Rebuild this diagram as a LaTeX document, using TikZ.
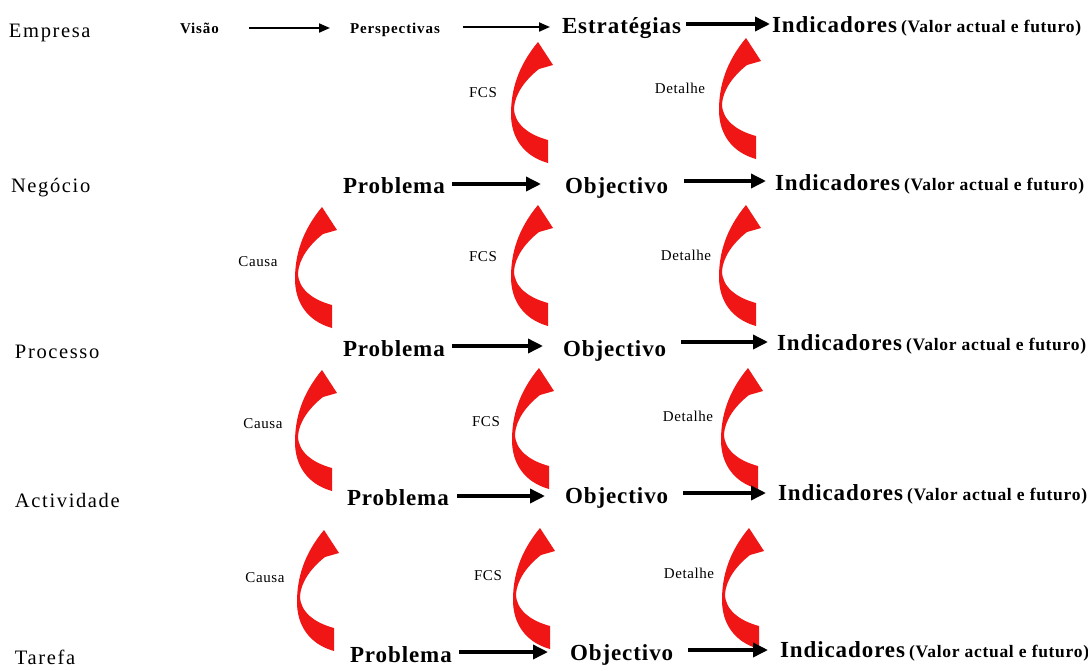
\documentclass[tikz,border=0pt]{standalone}
\usepackage{fontspec}
\setmainfont{Liberation Serif}
\newfontfamily\spA[LetterSpace=6]{Liberation Serif}
\newfontfamily\spB[LetterSpace=4]{Liberation Serif}
\newfontfamily\spC[LetterSpace=8]{Liberation Serif}
\usetikzlibrary{arrows.meta}
\definecolor{arrred}{RGB}{240,22,22}
\tikzset{
  redarr/.pic={
    \fill[arrred] (27,0) -- (42,23) -- (28,27)
      .. controls (14,38) and (4,52) .. (3,66)
      .. controls (3,82) and (18,93) .. (37,98)
      -- (37,121)
      .. controls (12,114) and (0,95) .. (0,72)
      .. controls (0,48) and (7,24) .. (27,0) -- cycle;
  }
}
\begin{document}
\begin{tikzpicture}[x=1pt,y=-1pt,
  every node/.style={inner sep=0pt,outer sep=0pt,anchor=base west},
  rowlab/.style={font=\spC\fontsize{20.5}{24}\selectfont},
  big/.style={font=\spB\bfseries\fontsize{23}{28}\selectfont},
  valor/.style={font=\spB\bfseries\fontsize{17.5}{20}\selectfont},
  small/.style={font=\spA\bfseries\fontsize{15}{18}\selectfont},
  lab/.style={anchor=center,font=\spB\fontsize{15}{18}\selectfont},
  thinarr/.style={line width=2pt,-{Triangle[length=11pt,width=9pt]}},
  barr/.style={line width=3.5pt,-{Triangle[length=15pt,width=14pt]}}
]
\fill[white] (0,0) rectangle (1088,670);
\useasboundingbox (0,0) rectangle (1088,670);

% ---- row 1: Empresa
\node[rowlab] (e1) at (9,37) {Empresa};
\node[small] (vis) at (180,33) {Visão};
\node[small] (per) at (350,33) {Perspectivas};
\node[big] (est) at (562,33) {Estratégias};
\node[big] (i1) at (772,32) {Indicadores};
\node[valor] (v1) at ([xshift=4pt]i1.base east) {(Valor actual e futuro)};
\coordinate (a1) at ([yshift=5pt]vis.base east);
\draw[thinarr,shorten <=30pt,shorten >=20pt] (a1) -- (a1 -| per.west);
\coordinate (a2) at ([yshift=6pt]per.base east);
\draw[thinarr,shorten <=23pt,shorten >=12pt] (a2) -- (a2 -| est.west);
\coordinate (a3) at ([yshift=9pt]est.base east);
\draw[barr,shorten <=5pt,shorten >=2pt] (a3) -- (a3 -| i1.west);

\pic at (511,42) {redarr};
\node[lab] (f1) at (483,93) {FCS};
\pic at (719,38) {redarr};
\node[lab] (d1) at (680,88) {Detalhe};

% ---- row 2: Negócio
\node[rowlab] (n2) at (11,192) {Negócio};
\node[big] (p2) at (343,193) {Problema};
\node[big] (o2) at (565,193) {Objectivo};
\node[big] (i2) at (775,190) {Indicadores};
\node[valor] (v2) at ([xshift=4pt]i2.base east) {(Valor actual e futuro)};
\coordinate (b2) at ([yshift=9pt]p2.base east);
\draw[barr,shorten <=7pt,shorten >=24pt] (b2) -- (b2 -| o2.west);
\coordinate (c2) at ([yshift=9pt]i2.base west);
\draw[barr,shorten <=16pt,shorten >=9pt] (c2 -| o2.east) -- (c2);

\pic at (295,207) {redarr};
\node[lab] (k2) at (258,262) {Causa};
\pic at (511,205) {redarr};
\node[lab] (f2) at (483,257) {FCS};
\pic at (719,205) {redarr};
\node[lab] (d2) at (686,255) {Detalhe};

% ---- row 3: Processo
\node[rowlab] (n3) at (15,358) {Processo};
\node[big] (p3) at (343,356) {Problema};
\node[big] (o3) at (563,356) {Objectivo};
\node[big] (i3) at (777,350) {Indicadores};
\node[valor] (v3) at ([xshift=4pt]i3.base east) {(Valor actual e futuro)};
\coordinate (b3) at ([yshift=10pt]p3.base east);
\draw[barr,shorten <=7pt,shorten >=20pt] (b3) -- (b3 -| o3.west);
\coordinate (c3) at ([yshift=8pt]i3.base west);
\draw[barr,shorten <=15pt,shorten >=9pt] (c3 -| o3.east) -- (c3);

\pic at (295,370) {redarr};
\node[lab] (k3) at (263,424) {Causa};
\pic at (512,368) {redarr};
\node[lab] (f3) at (486,422) {FCS};
\pic at (721,368) {redarr};
\node[lab] (d3) at (688,416) {Detalhe};

% ---- row 4: Actividade
\node[rowlab] (n4) at (15,507) {Actividade};
\node[big] (p4) at (347,505) {Problema};
\node[big] (o4) at (565,503) {Objectivo};
\node[big] (i4) at (778,500) {Indicadores};
\node[valor] (v4) at ([xshift=4pt]i4.base east) {(Valor actual e futuro)};
\coordinate (b4) at ([yshift=9pt]p4.base east);
\draw[barr,shorten <=8pt,shorten >=20pt] (b4) -- (b4 -| o4.west);
\coordinate (c4) at ([yshift=7pt]i4.base west);
\draw[barr,shorten <=15pt,shorten >=12pt] (c4 -| o4.east) -- (c4);

\pic at (297,530) {redarr};
\node[lab] (k4) at (265,578) {Causa};
\pic at (513,528) {redarr};
\node[lab] (f4) at (488,576) {FCS};
\pic at (722,528) {redarr};
\node[lab] (d4) at (689,573) {Detalhe};

% ---- row 5: Tarefa
\node[rowlab] (n5) at (15,664) {Tarefa};
\node[big] (p5) at (350,662) {Problema};
\node[big] (o5) at (570,660) {Objectivo};
\node[big] (i5) at (780,657) {Indicadores};
\node[valor] (v5) at ([xshift=4pt]i5.base east) {(Valor actual e futuro)};
\coordinate (b5) at ([yshift=10pt]p5.base east);
\draw[barr,shorten <=7pt,shorten >=22pt] (b5) -- (b5 -| o5.west);
\coordinate (c5) at ([yshift=7pt]i5.base west);
\draw[barr,shorten <=15pt,shorten >=12pt] (c5 -| o5.east) -- (c5);
\end{tikzpicture}
\end{document}
